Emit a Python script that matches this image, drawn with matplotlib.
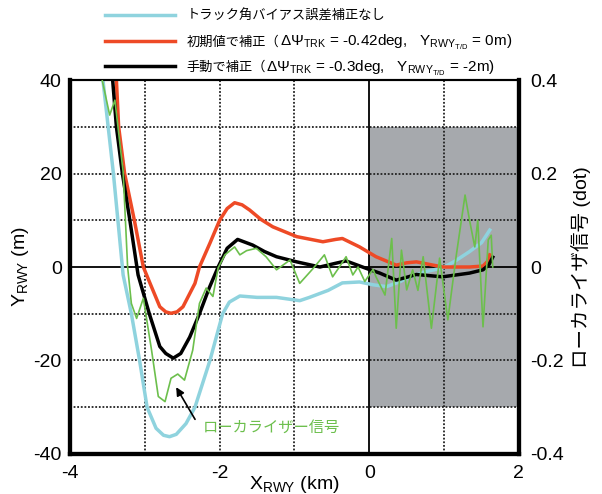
import matplotlib
matplotlib.use('Agg')
import matplotlib.pyplot as plt
from matplotlib.patches import Rectangle
from matplotlib.transforms import IdentityTransform

plt.rcParams['font.family'] = ['Liberation Sans', 'Noto Sans CJK JP']
plt.rcParams['mathtext.fontset'] = 'custom'
plt.rcParams['mathtext.rm'] = 'Liberation Sans'
plt.rcParams['axes.unicode_minus'] = False

# track angle bias not corrected (m)
cyan_x = [-3.56, -3.49, -3.42, -3.36, -3.29, -3.18, -3.07, -2.97, -2.85, -2.75, -2.67,
          -2.58, -2.45, -2.33, -2.13, -1.96, -1.87, -1.73, -1.50, -1.24, -0.93, -0.80,
          -0.55, -0.36, -0.13, 0.05, 0.23, 0.40, 0.54, 0.75, 0.98, 1.15, 1.34, 1.50, 1.61]
cyan_y = [40, 30, 20, 10, -1.7, -10, -20, -30, -34.5, -36, -36.3,
          -35.8, -33.5, -30, -20, -10, -7.5, -6.2, -6.5, -6.5, -7.2, -6.5,
          -5.0, -3.4, -3.2, -3.8, -4.2, -3.2, -2.1, -1.0, -0.2, 1.3, 3.3, 5.2, 7.9]

# corrected with initial values (m)
red_x = [-3.38, -3.35, -3.27, -3.14, -3.02, -2.93, -2.80, -2.72, -2.65, -2.57, -2.49, -2.33, -2.27,
         -2.13, -2.00, -1.90, -1.80, -1.70, -1.60, -1.45, -1.29, -0.97, -0.62, -0.45,
         -0.36, -0.13, 0.09, 0.36, 0.50, 0.63, 0.98, 1.34, 1.52, 1.58, 1.61]
red_y = [40, 30, 20, 10, 0, -3.5, -8.5, -9.6, -9.9, -9.6, -8.5, -3.5, 0,
         5.1, 10, 12.5, 13.75, 13.3, 12.2, 10.2, 8.6, 6.5, 5.4, 5.9,
         6.1, 4.3, 2.2, 0.4, 0.9, 1.1, 0.0, 0.0, 0.2, 1.2, 2.6]

# corrected manually (m)
black_x = [-3.43, -3.38, -3.30, -3.20, -3.09, -2.94, -2.80, -2.72, -2.62, -2.52, -2.40,
           -2.27, -2.14, -2.02, -1.90, -1.76, -1.56, -1.40, -1.24, -0.97, -0.66, -0.45,
           -0.31, -0.04, 0.14, 0.36, 0.50, 0.63, 0.98, 1.34, 1.52, 1.60, 1.65]
black_y = [40, 30, 20, 10, -1.7, -10, -17, -18.5, -19.5, -18.5, -15,
           -10, -4.5, 0, 4.0, 5.9, 4.7, 3.3, 2.2, 1.1, 0.0, 0.8,
           1.3, -0.3, -1.3, -2.8, -2.2, -1.6, -2.1, -1.3, -0.6, 0.5, 2.1]

# localizer signal (dot)
loc_x = [-3.57, -3.47, -3.40, -3.29, -3.23, -3.18, -3.11, -3.02, -2.91, -2.82, -2.73,
         -2.65, -2.56, -2.47, -2.36, -2.27, -2.18, -2.09, -2.02, -1.93, -1.80, -1.73,
         -1.64, -1.51, -1.38, -1.24, -1.06, -0.93, -0.75, -0.60, -0.49, -0.40, -0.31,
         -0.22, -0.15, -0.06, 0.05, 0.09, 0.21, 0.30, 0.36, 0.43, 0.50, 0.58, 0.65,
         0.72, 0.83, 0.94, 1.05, 1.16, 1.28, 1.34, 1.41, 1.45, 1.52, 1.59, 1.63, 1.65]
loc_y = [0.40, 0.325, 0.357, 0.204, 0.0, -0.078, -0.11, -0.067, -0.178, -0.277, -0.288,
         -0.238, -0.229, -0.242, -0.178, -0.078, -0.045, -0.063, -0.002, 0.026, 0.043, 0.026,
         0.035, 0.040, 0.022, -0.006, 0.015, -0.035, -0.003, 0.026, -0.021, 0.0, 0.022,
         -0.017, 0.0, -0.031, -0.005, -0.021, -0.060, 0.061, -0.131, 0.036, -0.049, -0.006, -0.05,
         0.022, -0.131, 0.019, -0.113, 0.022, 0.154, 0.10, 0.043, 0.10, -0.128, 0.058, 0.068, 0.0]

# legend text: japanese part + parameter part
legend_jp = ['トラック角バイアス誤差補正なし', '初期値で補正（', '手動で補正（']
legend_params = ['',
                 r'ΔΨ$_{\mathrm{TRK}}$ = -0.42deg,   Y$_{\mathrm{RWY}_{\mathrm{T/D}}}$ = 0m)',
                 r'ΔΨ$_{\mathrm{TRK}}$ = -0.3deg,   Y$_{\mathrm{RWY}_{\mathrm{T/D}}}$ = -2m)']

x_ticks = [-4, -2, 0, 2]
y_ticks = [-40, -20, 0, 20, 40]
dot_ticks = [-0.4, -0.2, 0, 0.2, 0.4]
dot_labels = ['-0.4', '-0.2', '0', '0.2', '0.4']

fig = plt.figure(figsize=(6.02, 4.94), dpi=100)
ax = fig.add_axes([0.1163, 0.081, 0.7457, 0.757])
ax.set_xlim(-4, 2)
ax.set_ylim(-40, 40)

# shaded area after threshold
ax.add_patch(Rectangle((0, -30), 2, 60, facecolor='#a6a9ad', edgecolor='none', zorder=0))

# grid
for gx in [-3, -2, -1, 1]:
    ax.axvline(gx, color='#222222', lw=1.3, ls=(0, (1, 1)), zorder=1)
for gy in [-30, -20, -10, 10, 20, 30]:
    ax.axhline(gy, color='#222222', lw=1.3, ls=(0, (1, 1)), zorder=1)
ax.axvline(0, color='black', lw=1.3, zorder=1)
ax.axhline(0, color='black', lw=1.3, zorder=1)

l1, = ax.plot(cyan_x, cyan_y, color='#8fd3de', lw=2.5, zorder=3)
l2, = ax.plot(red_x, red_y, color='#ee4a26', lw=2.5, zorder=3)
l3, = ax.plot(black_x, black_y, color='black', lw=2.5, zorder=4)

ax.set_xticks(x_ticks)
ax.set_yticks(y_ticks)
ax.tick_params(length=0, labelsize=14)
ax.tick_params(axis='x', pad=8)
ax.tick_params(axis='y', pad=6)
ax.set_xlabel(r'$\mathrm{X_{RWY}}$ (km)', fontsize=14, labelpad=-6)
ax.set_ylabel(r'$\mathrm{Y_{RWY}}$ (m)', fontsize=14, labelpad=2)

ax2 = ax.twinx()
ax2.set_ylim(-0.4, 0.4)
ax2.set_yticks(dot_ticks)
ax2.set_yticklabels(dot_labels)
ax2.tick_params(length=0, labelsize=14, pad=8)
ax2.set_ylabel('ローカライザ信号 (dot)', fontsize=14, labelpad=5)
ax2.plot(loc_x, loc_y, color='#6cbf4c', lw=1.2, zorder=5)

for a in (ax, ax2):
    a.spines['left'].set_linewidth(3)
    a.spines['bottom'].set_linewidth(3)
    a.spines['right'].set_linewidth(3)
    a.spines['top'].set_linewidth(1.5)

ax.annotate('', xy=(-2.60, -25.2), xytext=(-2.31, -33.1),
            arrowprops=dict(arrowstyle='-|>', color='black', lw=1.2, mutation_scale=12), zorder=6)
ax.text(-2.22, -34.2, 'ローカライザー信号', color='#6cbf4c', fontsize=11, va='center', ha='left',
        family=['Noto Sans CJK JP'])

leg = fig.legend([l1, l2, l3], legend_jp,
                 loc='upper left', bbox_to_anchor=(0.1744, 0.98), frameon=False,
                 prop={'family': 'Noto Sans CJK JP', 'size': 9.5},
                 handlelength=5.3, handletextpad=0.9, labelspacing=0.95,
                 borderpad=0, borderaxespad=0)

# append the parameter part after the japanese text, in a larger latin font
fig.canvas.draw()
renderer = fig.canvas.get_renderer()
for t, extra in zip(leg.get_texts(), legend_params):
    if not extra:
        continue
    bb = t.get_window_extent(renderer)
    x0, y0 = t.get_transform().transform(t.get_unitless_position())
    fig.text(bb.x1, y0, extra, transform=IdentityTransform(), fontsize=11,
             va='baseline', ha='left')

fig.savefig('out.png', dpi=100)
